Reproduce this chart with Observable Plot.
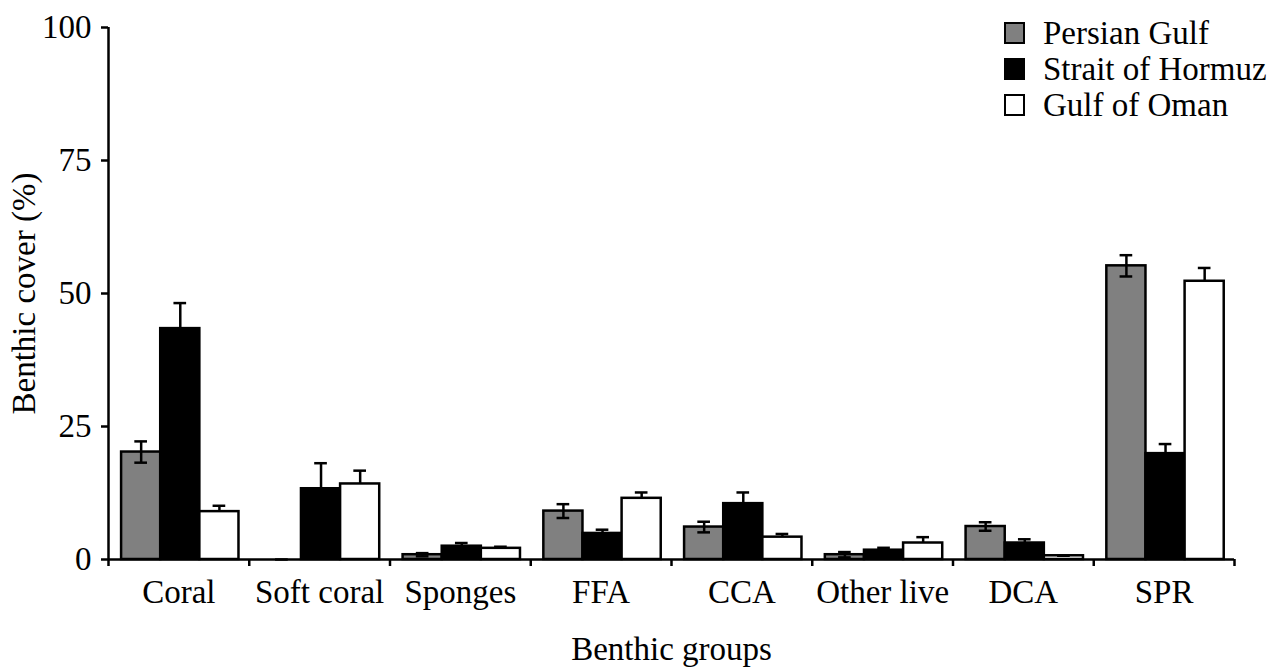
<!DOCTYPE html>
<html><head><meta charset="utf-8">
<script src="https://cdn.jsdelivr.net/npm/d3@7"></script>
<script src="https://cdn.jsdelivr.net/npm/@observablehq/plot@0.6"></script>
<style>
body{margin:0;background:#fff;}
#wrap{position:relative;width:1282px;height:667px;font-family:"Liberation Serif","Times New Roman",serif;}
.legend{position:absolute;left:1004px;top:15px;font-size:33px;color:#000;}
.legend .row{display:flex;align-items:center;height:36px;}
.legend .sw{width:17px;height:18px;border:2px solid #000;margin-right:18px;}
</style></head><body><div id="wrap"></div>
<script>
const categories = ["Coral","Soft coral","Sponges","FFA","CCA","Other live","DCA","SPR"];
const series = ["Persian Gulf","Strait of Hormuz","Gulf of Oman"];
const persianGulf      = [20.2, 0.0, 0.9,  9.1,  6.1, 0.9,  6.2, 55.2];
const persianGulfSE    = [2.0,  0.0, 0.3,  1.3,  1.0, 0.5,  0.8,  2.0];
const straitOfHormuz   = [43.4, 13.3, 2.5, 4.9, 10.5, 1.75, 3.1, 19.9];
const straitOfHormuzSE = [4.8,  4.8, 0.6,  0.7,  2.1, 0.45, 0.7,  1.8];
const gulfOfOman       = [9.0, 14.2, 2.1, 11.5,  4.2, 3.1,  0.7, 52.3];
const gulfOfOmanSE     = [1.1,  2.5, 0.3,  1.1,  0.6, 1.1,  0.0,  2.5];
const yTicks = [0, 25, 50, 75, 100];
const colors = ["#808080", "#000000", "#ffffff"];

const values = [persianGulf, straitOfHormuz, gulfOfOman];
const errors = [persianGulfSE, straitOfHormuzSE, gulfOfOmanSE];
const rows = [];
values.forEach((vals, k) => vals.forEach((v, i) => rows.push({
  cat: categories[i], i, k, series: series[k], value: v, se: errors[k][i]
})));

// layout within each category slot (slot width = 1 in x units)
const OFFSET = 0.093, BAR = 0.278, CAP = 0.045;
const x1 = d => d.i + OFFSET + d.k * BAR;
const x2 = d => x1(d) + BAR;
const xc = d => x1(d) + BAR / 2;

const chart = Plot.plot({
  width: 1282, height: 667,
  marginLeft: 108, marginRight: 48, marginTop: 27, marginBottom: 108,
  style: {fontFamily: "'Liberation Serif','Times New Roman',serif", fontSize: "33px", color: "#000", background: "#fff"},
  x: {domain: [0, categories.length], axis: null},
  y: {domain: [0, 100], axis: null},
  color: {domain: series, range: colors},
  marks: [
    Plot.rectY(rows.filter(d => d.value > 0), {x1, x2, y1: 0, y2: "value", fill: "series", stroke: "#000", strokeWidth: 2.5}),
    Plot.ruleX(rows, {x: xc, y1: "value", y2: d => d.value + d.se, stroke: "#000", strokeWidth: 2.5}),
    Plot.ruleX(rows.filter(d => d.k === 0), {x: xc, y1: d => d.value - d.se, y2: "value", stroke: "#000", strokeWidth: 2.5}),
    Plot.ruleY(rows, {y: d => d.value + d.se, x1: d => xc(d) - CAP, x2: d => xc(d) + CAP, stroke: "#000", strokeWidth: 2.5}),
    Plot.ruleY(rows.filter(d => d.k === 0 && d.se > 0), {y: d => d.value - d.se, x1: d => xc(d) - CAP, x2: d => xc(d) + CAP, stroke: "#000", strokeWidth: 2.5}),
    Plot.ruleY([0], {stroke: "#000", strokeWidth: 2.5}),
    Plot.ruleX([0], {stroke: "#000", strokeWidth: 2.5}),
    Plot.axisX(d3.range(0, categories.length + 1), {tickFormat: () => "", tickSize: 7, strokeWidth: 2.5, label: null}),
    Plot.axisX(d3.range(categories.length).map(i => i + 0.5), {
      tickFormat: v => categories[Math.floor(v)], tickSize: 0, tickPadding: 20, fontSize: 33,
      label: "Benthic groups", labelAnchor: "center", labelOffset: 100, labelArrow: "none"
    }),
    Plot.axisY(yTicks, {
      tickSize: 7, tickPadding: 10, fontSize: 33, strokeWidth: 2.5,
      label: "Benthic cover (%)", labelAnchor: "center", labelOffset: 97, labelArrow: "none"
    })
  ]
});

const wrap = document.getElementById("wrap");
wrap.appendChild(chart);
const legend = document.createElement("div");
legend.className = "legend";
series.forEach((s, k) => {
  const row = document.createElement("div");
  row.className = "row";
  const sw = document.createElement("span");
  sw.className = "sw";
  sw.style.background = colors[k];
  const t = document.createElement("span");
  t.textContent = s;
  row.appendChild(sw); row.appendChild(t);
  legend.appendChild(row);
});
wrap.appendChild(legend);
</script></body></html>
